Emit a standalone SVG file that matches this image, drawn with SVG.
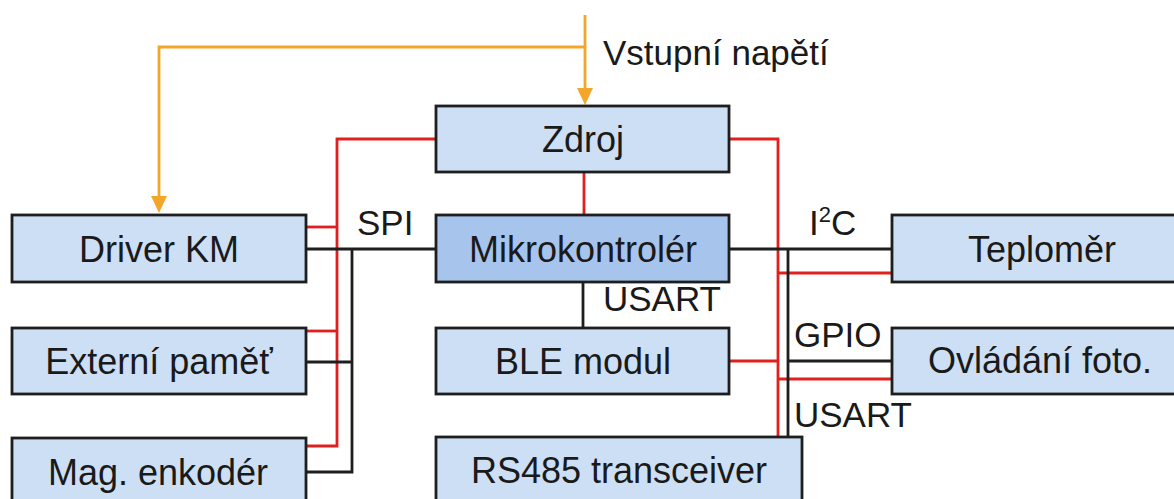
<svg xmlns="http://www.w3.org/2000/svg" width="1174" height="499" viewBox="0 0 1174 499">
  <defs>
    <style>
      .box { fill: #cddff5; stroke: #1e1e1e; stroke-width: 2.8; }
      .mcu { fill: #a7c4ec; }
      .t { font-family: "Liberation Sans", Arial, sans-serif; font-size: 36px; fill: #1a1a1a; text-anchor: middle; }
      .lbl { font-family: "Liberation Sans", Arial, sans-serif; font-size: 35px; fill: #1a1a1a; }
      .red { fill: none; stroke: #e0201e; stroke-width: 2.8; }
      .blk { fill: none; stroke: #1e1e1e; stroke-width: 2.8; }
      .org { fill: none; stroke: #f4a62a; stroke-width: 2.8; }
      .ah { fill: #f4a62a; }
    </style>
  </defs>
  <rect width="1174" height="499" fill="#ffffff"/>

  <g id="connectors">
    <path class="org" d="M585,15 V92"/>
    <path class="org" d="M585,47 H159 V200"/>
    <path class="ah" d="M577,88 L593,88 L585,105 Z"/>
    <path class="ah" d="M151,196 L167,196 L159,213 Z"/>

    <path class="red" d="M436,139 H337 V446 H306"/>
    <path class="red" d="M306,227 H337"/>
    <path class="red" d="M306,331 H337"/>
    <path class="red" d="M584,172 V215"/>
    <path class="red" d="M729,139 H778 V437"/>
    <path class="red" d="M778,273 H892"/>
    <path class="red" d="M729,361 H778"/>
    <path class="red" d="M778,379 H892"/>

    <path class="blk" d="M306,249 H436"/>
    <path class="blk" d="M352,249 V472 H306"/>
    <path class="blk" d="M306,362 H352"/>
    <path class="blk" d="M583,282 V328"/>
    <path class="blk" d="M729,249 H892"/>
    <path class="blk" d="M788,249 V437"/>
    <path class="blk" d="M788,361 H892"/>
  </g>

  <g id="labels">
    <text class="lbl" x="603" y="65">Vstupní napětí</text>
    <text class="lbl" x="357" y="235">SPI</text>
    <text class="lbl" x="603" y="311">USART</text>
    <text class="lbl" x="809" y="235">I<tspan font-size="22" dy="-13">2</tspan><tspan dy="13">C</tspan></text>
    <text class="lbl" x="794" y="347">GPIO</text>
    <text class="lbl" x="794" y="427">USART</text>
  </g>

  <g id="zdroj">
    <rect class="box" x="436" y="106" width="293" height="66"/>
    <text class="t" x="583" y="152">Zdroj</text>
  </g>
  <g id="driver-km">
    <rect class="box" x="12" y="215" width="294" height="67"/>
    <text class="t" x="159" y="262">Driver KM</text>
  </g>
  <g id="mikrokontroler">
    <rect class="box mcu" x="436" y="215" width="293" height="67"/>
    <text class="t" x="583" y="262">Mikrokontrolér</text>
  </g>
  <g id="teplomer">
    <rect class="box" x="892" y="215" width="300" height="67"/>
    <text class="t" x="1042" y="262">Teploměr</text>
  </g>
  <g id="externi-pamet">
    <rect class="box" x="12" y="328" width="294" height="66"/>
    <text class="t" x="159" y="374">Externí paměť</text>
  </g>
  <g id="ble-modul">
    <rect class="box" x="436" y="328" width="293" height="66"/>
    <text class="t" x="583" y="374">BLE modul</text>
  </g>
  <g id="ovladani-foto">
    <rect class="box" x="892" y="328" width="300" height="66"/>
    <text class="t" x="1040" y="373">Ovládání foto.</text>
  </g>
  <g id="mag-enkoder">
    <rect class="box" x="12" y="438" width="294" height="70"/>
    <text class="t" x="158" y="485">Mag. enkodér</text>
  </g>
  <g id="rs485">
    <rect class="box" x="436" y="437" width="366" height="70"/>
    <text class="t" x="619" y="483">RS485 transceiver</text>
  </g>
</svg>
